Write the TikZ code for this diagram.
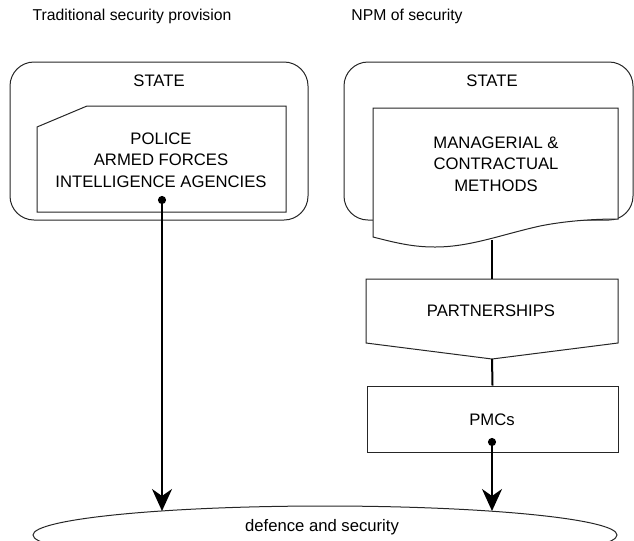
\documentclass[tikz,border=0pt]{standalone}
\usepackage{fontspec}
\setmainfont{Liberation Sans}
\usetikzlibrary{arrows.meta,shapes.geometric}
\newlength{\du}
\setlength{\du}{0.75pt}

\begin{document}
\begin{tikzpicture}
\pgftransformyscale{-1.000000}
\tikzset{
  outline/.style={draw=black!85, line width=1\du},
  flow/.style={line width=2\du},
  flowarrow/.style={flow, {Circle[length=6pt]}-{Stealth[length=16.5pt,width=15pt,inset=5.25pt]}},
  boxtext/.style={align=center, font=\fontsize{12.5}{16}\selectfont},
  titletext/.style={font=\fontsize{11.8}{14}\selectfont},
}
\useasboundingbox (0\du,0\du) rectangle (634\du,540\du);
% titles
\node[titletext] (titleleft) at (132\du,16\du){Traditional security provision};
\node[titletext] (titleright) at (407\du,16\du){NPM of security};
% state boxes
\node[outline, rounded corners=24\du, minimum width=298\du, minimum height=158\du, inner sep=0pt] (stateleft) at (159\du,141\du){};
\node[outline, rounded corners=24\du, minimum width=289\du, minimum height=158\du, inner sep=0pt] (stateright) at (488.5\du,141\du){};
\node[boxtext] (stateleftlabel) at (159\du,81\du){STATE};
\node[boxtext] (staterightlabel) at (492\du,81\du){STATE};
% traditional: card
\draw[outline, fill=white] (87\du,106\du) -- (286\du,106\du) -- (286\du,212\du) -- (37\du,212\du) -- (37\du,127\du) -- cycle;
\node[boxtext] (forces) at (161\du,160\du){POLICE\\ARMED FORCES\\INTELLIGENCE AGENCIES};
% npm: document
\draw[outline, fill=white] (373\du,108\du) -- (618\du,108\du) -- (618\du,219\du)
  .. controls (600\du,219\du) and (570\du,220\du) .. (540\du,226\du)
  .. controls (500\du,235\du) and (470\du,247\du) .. (435\du,247\du)
  .. controls (415\du,247\du) and (400\du,244\du) .. (373\du,237\du) -- cycle;
\node[boxtext] (methods) at (496\du,164\du){MANAGERIAL \&\\CONTRACTUAL\\METHODS};
% npm: partnerships
\draw[outline, fill=white] (366\du,279\du) -- (618\du,279\du) -- (618\du,343\du) -- (492\du,359\du) -- (366\du,343\du) -- cycle;
\node[boxtext] (partners) at (491\du,311\du){PARTNERSHIPS};
% npm: pmcs
\node[outline, boxtext, minimum width=251\du, minimum height=66\du, inner sep=0pt] (pmcs) at (492.5\du,419\du){};
\node[boxtext] (pmcslabel) at (492\du,420\du){PMCs};
% outcome
\node[outline, ellipse, minimum width=584\du, minimum height=58\du, inner sep=0pt] (defence) at (325\du,535\du){};
\node[boxtext] (defencelabel) at (322\du,527\du){defence and security};
% connector ends
\coordinate (forcesdot) at (162\du,196\du);
\coordinate (defenceleft) at (162\du,511\du);
\coordinate (methodsout) at (492\du,240\du);
\coordinate (partnersin) at (492\du,279\du);
\coordinate (partnersout) at (492\du,359\du);
\coordinate (pmcsdot) at (492\du,438\du);
\coordinate (defenceright) at (492\du,511\du);
% connectors
\draw[flowarrow] (forcesdot) -- (defenceleft);
\draw[flow] (methodsout) -- (partnersin);
\draw[flow] (partnersout) -- (pmcs.north);
\draw[flowarrow] (pmcsdot) -- (defenceright);
\end{tikzpicture}
\end{document}
